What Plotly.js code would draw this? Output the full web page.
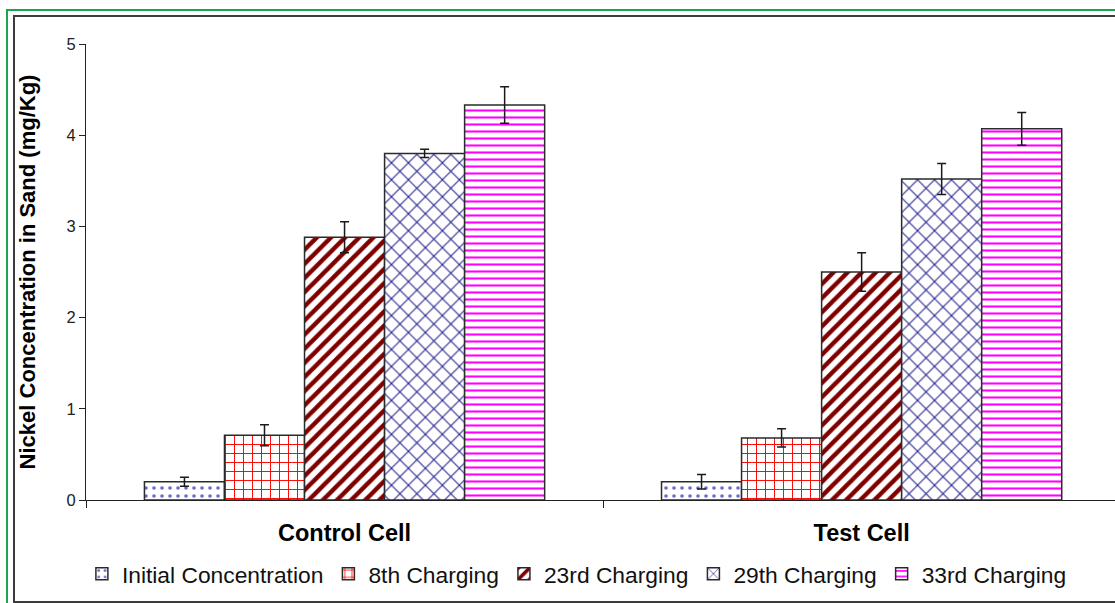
<!DOCTYPE html>
<html>
<head>
<meta charset="utf-8">
<script src="https://cdn.plot.ly/plotly-3.0.1.min.js"></script>
<style>
  html, body { margin: 0; padding: 0; background: #fff; overflow: hidden; }
  #wrap { position: relative; width: 1115px; height: 603px; overflow: hidden; }
  #chart { position: absolute; left: 0; top: 0; width: 1115px; height: 603px; }
  .frame-green { position: absolute; left: 6px; top: 9px; width: 1200px; height: 700px; border: 2px solid #1aa64f; pointer-events: none; box-sizing: border-box; }
  .frame-dark { position: absolute; left: 13px; top: 15px; width: 1200px; height: 588px; border: 2.5px solid #3c3c3c; pointer-events: none; box-sizing: border-box; }
</style>
</head>
<body>
<div id="wrap">
  <div id="chart"></div>
  <div class="frame-green"></div>
  <div class="frame-dark"></div>
</div>
<script>
// ---- data ----
const categories = ["Control Cell", "Test Cell"];
const seriesNames = ["Initial Concentration", "8th Charging", "23rd Charging", "29th Charging", "33rd Charging"];
const initialValues = [0.20, 0.20];
const initialErrors = [0.05, 0.08];
const charging8Values = [0.71, 0.68];
const charging8Errors = [0.115, 0.10];
const charging23Values = [2.88, 2.50];
const charging23Errors = [0.17, 0.21];
const charging29Values = [3.80, 3.52];
const charging29Errors = [0.045, 0.17];
const charging33Values = [4.33, 4.07];
const charging33Errors = [0.20, 0.18];
const yTickVals = [0, 1, 2, 3, 4, 5];

// ---- styles ----
const values = [initialValues, charging8Values, charging23Values, charging29Values, charging33Values];
const errors = [initialErrors, charging8Errors, charging23Errors, charging29Errors, charging33Errors];
const patterns = [
  {shape: ".", fgcolor: "#6a6ad0", bgcolor: "#ffffff", size: 8, solidity: 0.16, fillmode: "overlay", fgopacity: 1},
  {shape: "+", fgcolor: "#ff0000", bgcolor: "#ffffff", size: 9, solidity: 0.2, fillmode: "overlay", fgopacity: 1},
  {shape: "/", fgcolor: "#800000", bgcolor: "#ffffff", size: 10, solidity: 0.45, fillmode: "overlay", fgopacity: 1},
  {shape: "x", fgcolor: "#1a1a8a", bgcolor: "#ffffff", size: 12, solidity: 0.16, fillmode: "overlay", fgopacity: 1},
  {shape: "-", fgcolor: "#ff00ff", bgcolor: "#ffffff", size: 7, solidity: 0.3, fillmode: "overlay", fgopacity: 1}
];

const traces = seriesNames.map((name, i) => ({
  type: "bar",
  name: name,
  x: categories,
  y: values[i],
  error_y: {type: "data", array: errors[i], visible: true, color: "#1a1a1a", thickness: 1.5, width: 4.5},
  marker: {color: "#ffffff", line: {color: "#2a2a2a", width: 1.5}, pattern: patterns[i]},
  hoverinfo: "name+y"
}));

const layout = {
  width: 1115,
  height: 603,
  margin: {l: 86, r: 0, t: 44, b: 103},
  paper_bgcolor: "#ffffff",
  plot_bgcolor: "#ffffff",
  font: {family: "Liberation Sans, Arial, sans-serif", color: "#000"},
  barmode: "group",
  bargap: 0.226,
  bargroupgap: 0,
  showlegend: true,
  legend: {
    orientation: "h",
    x: -0.004, xanchor: "left",
    y: -0.162, yanchor: "middle",
    font: {size: 22.8, color: "#111"},
    traceorder: "normal",
    itemclick: false
  },
  xaxis: {
    type: "category",
    range: [-0.5, 1.49],
    showline: true, linecolor: "#222", linewidth: 1,
    ticks: "outside", tickson: "boundaries", ticklen: 7, tickcolor: "#222", tickwidth: 1,
    showgrid: false, zeroline: false,
    tickfont: {size: 23.5, weight: "bold", color: "#000"},
    ticklabelstandoff: 12
  },
  yaxis: {
    range: [0, 5],
    tickvals: yTickVals,
    showline: true, linecolor: "#222", linewidth: 1,
    ticks: "outside", ticklen: 6, tickcolor: "#222", tickwidth: 1,
    showgrid: false, zeroline: false,
    tickfont: {size: 16.5, color: "#222"},
    title: {text: "<b>Nickel Concentration in Sand (mg/Kg)</b>", font: {size: 22, color: "#000"}, standoff: 24}
  }
};

Plotly.newPlot("chart", traces, layout, {displayModeBar: false, staticPlot: true});
</script>
</body>
</html>
